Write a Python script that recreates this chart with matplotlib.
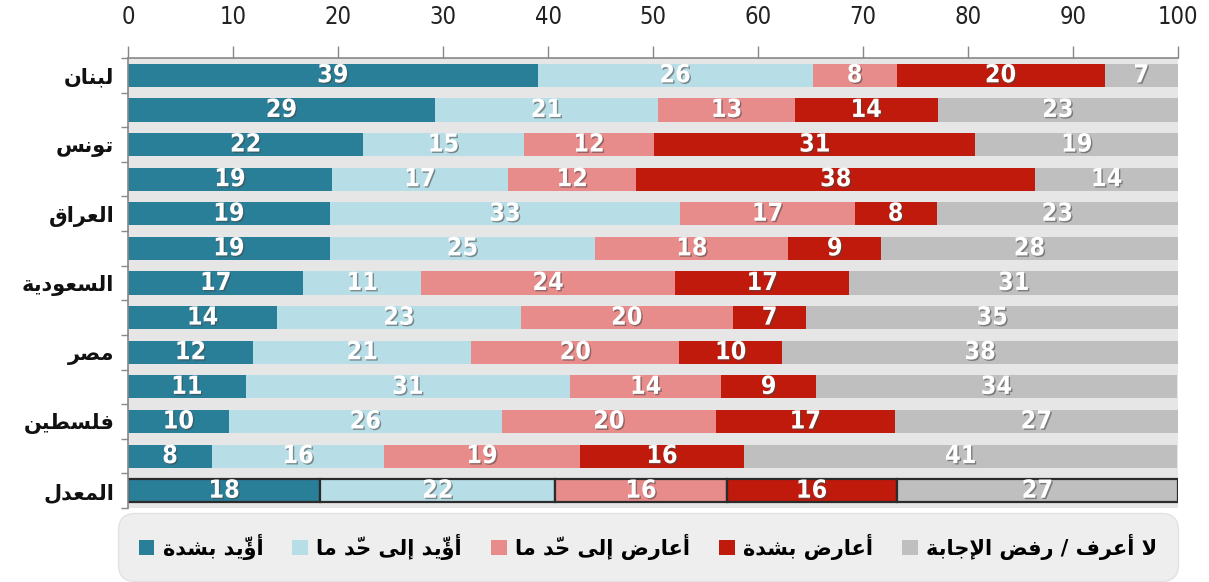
import numpy as np
import matplotlib
matplotlib.use('Agg')
import matplotlib.pyplot as plt
import matplotlib.patheffects as pe

# Arabic shaping by hand: matplotlib has no joining / RTL support
FORMS = {
    'ء': (0xFE80, 1), 'آ': (0xFE81, 2), 'أ': (0xFE83, 2), 'ؤ': (0xFE85, 2),
    'إ': (0xFE87, 2), 'ئ': (0xFE89, 4), 'ا': (0xFE8D, 2), 'ب': (0xFE8F, 4),
    'ة': (0xFE93, 2), 'ت': (0xFE95, 4), 'ث': (0xFE99, 4), 'ج': (0xFE9D, 4),
    'ح': (0xFEA1, 4), 'خ': (0xFEA5, 4), 'د': (0xFEA9, 2), 'ذ': (0xFEAB, 2),
    'ر': (0xFEAD, 2), 'ز': (0xFEAF, 2), 'س': (0xFEB1, 4), 'ش': (0xFEB5, 4),
    'ص': (0xFEB9, 4), 'ض': (0xFEBD, 4), 'ط': (0xFEC1, 4), 'ظ': (0xFEC5, 4),
    'ع': (0xFEC9, 4), 'غ': (0xFECD, 4), 'ف': (0xFED1, 4), 'ق': (0xFED5, 4),
    'ك': (0xFED9, 4), 'ل': (0xFEDD, 4), 'م': (0xFEE1, 4), 'ن': (0xFEE5, 4),
    'ه': (0xFEE9, 4), 'و': (0xFEED, 2), 'ى': (0xFEEF, 2), 'ي': (0xFEF1, 4),
}
LAM_ALEF = {'آ': 0xFEF5, 'أ': 0xFEF7, 'إ': 0xFEF9, 'ا': 0xFEFB}


def is_mark(c):
    return '\u064B' <= c <= '\u0652'


def shape(text):
    # list of [char, base, nforms]
    items = []
    i = 0
    while i < len(text):
        c = text[i]
        if c == 'ل' and i + 1 < len(text) and text[i + 1] in LAM_ALEF:
            items.append([c, LAM_ALEF[text[i + 1]], 2])
            i += 2
            continue
        if c in FORMS:
            items.append([c, FORMS[c][0], FORMS[c][1]])
        else:
            items.append([c, None, 0])
        i += 1

    def neighbour(k, step):
        j = k + step
        while 0 <= j < len(items) and is_mark(items[j][0]):
            j += step
        if 0 <= j < len(items):
            return items[j]
        return None

    shaped = []
    for k, (c, base, n) in enumerate(items):
        if base is None:
            shaped.append(c)
            continue
        prev = neighbour(k, -1)
        nxt = neighbour(k, 1)
        pj = prev is not None and prev[2] == 4
        nj = n == 4 and nxt is not None and nxt[2] >= 2
        if n == 1:
            cp = base
        elif n == 2:
            cp = base + 1 if pj else base
        else:
            if pj and nj:
                cp = base + 3
            elif pj:
                cp = base + 1
            elif nj:
                cp = base + 2
            else:
                cp = base
        shaped.append(chr(cp))

    # reverse by clusters (letter + its marks) for visual order
    clusters = []
    for ch in shaped:
        if is_mark(ch) and clusters:
            clusters[-1] += ch
        else:
            clusters.append(ch)
    return ''.join(reversed(clusters))


# ---- data ----
countries = ['لبنان', '', 'تونس', '', 'العراق', '', 'السعودية', '', 'مصر', '', 'فلسطين', '', 'المعدل']
series_names = ['أؤيّد بشدة', 'أؤيّد إلى حدّ ما', 'أعارض إلى حدّ ما', 'أعارض بشدة', 'لا أعرف / رفض الإجابة']
strongly_agree = [39.0, 29.2, 22.4, 19.4, 19.2, 19.2, 16.7, 14.2, 11.9, 11.2, 9.6, 8.0, 18.3]
somewhat_agree = [26.2, 21.3, 15.3, 16.8, 33.4, 25.3, 11.2, 23.2, 20.8, 30.9, 26.0, 16.4, 22.4]
somewhat_oppose = [8.0, 13.0, 12.4, 12.2, 16.6, 18.4, 24.2, 20.2, 19.8, 14.4, 20.4, 18.6, 16.3]
strongly_oppose = [19.8, 13.6, 30.6, 38.0, 7.8, 8.8, 16.6, 7.0, 9.8, 9.0, 17.0, 15.7, 16.2]
dont_know = [7.0, 23.0, 19.3, 13.6, 23.0, 28.3, 31.3, 35.4, 37.7, 34.4, 27.0, 41.2, 26.8]
xticks = [0, 10, 20, 30, 40, 50, 60, 70, 80, 90, 100]

colors = ['#2a7f98', '#b7dee7', '#e88b8b', '#c01a0c', '#bfbfbf']
all_series = [strongly_agree, somewhat_agree, somewhat_oppose, strongly_oppose, dont_know]

fig = plt.figure(figsize=(12.09, 5.82), dpi=100)
ax = fig.add_axes([0.1059, 0.1271, 0.8685, 0.7732])
ax.set_facecolor('#e6e6e6')

y = np.arange(len(countries))
n_rows = len(countries)
edge_colors = ['none'] * (n_rows - 1) + ['#2b2b2b']
edge_widths = [0] * (n_rows - 1) + [1.6]

left = np.zeros(n_rows)
for vals, col, name in zip(all_series, colors, series_names):
    vals = np.array(vals)
    bars = ax.barh(y, vals, left=left, height=0.67, color=col,
                   edgecolor=edge_colors, linewidth=edge_widths, label=shape(name))
    labels = ax.bar_label(bars, labels=[str(int(round(v))) for v in vals], label_type='center',
                          color='white', fontsize=18, fontweight='bold', fontstretch='condensed')
    for t in labels:
        t.set_path_effects([pe.withSimplePatchShadow(offset=(1, -1), shadow_rgbFace='#444444', alpha=0.55)])
    left += vals

ax.set_xlim(0, 100)
ax.set_ylim(n_rows - 0.5, -0.5)

ax.xaxis.tick_top()
ax.set_xticks(xticks)
ax.set_xticklabels([str(v) for v in xticks], fontsize=17, fontstretch='condensed', color='#222222')
ax.tick_params(axis='x', direction='out', length=9, width=1, color='#888888', pad=12)

ax.set_yticks(y)
ax.set_yticklabels([shape(c) for c in countries], fontsize=15, fontweight='bold', color='#111111')
ax.tick_params(axis='y', which='major', length=0, pad=10)
ax.set_yticks(np.arange(-0.5, n_rows, 1), minor=True)
ax.tick_params(axis='y', which='minor', direction='out', length=5, width=1, color='#888888')

for s in ['right', 'bottom']:
    ax.spines[s].set_visible(False)
for s in ['top', 'left']:
    ax.spines[s].set_color('#888888')
    ax.spines[s].set_linewidth(1.2)

leg = fig.legend(loc='center', bbox_to_anchor=(0.0976, 0.0034, 0.8768, 0.1134), mode='expand',
                 ncol=5, prop={'weight': 'bold', 'size': 15}, handlelength=0.75,
                 handleheight=0.75, handletextpad=0.4, borderpad=1.0, borderaxespad=0,
                 fancybox=True, facecolor='#eeeeee', edgecolor='#e2e2e2', framealpha=1)
leg.get_frame().set_boxstyle('round,pad=0,rounding_size=0.8')

fig.savefig('out.png', dpi=100)
